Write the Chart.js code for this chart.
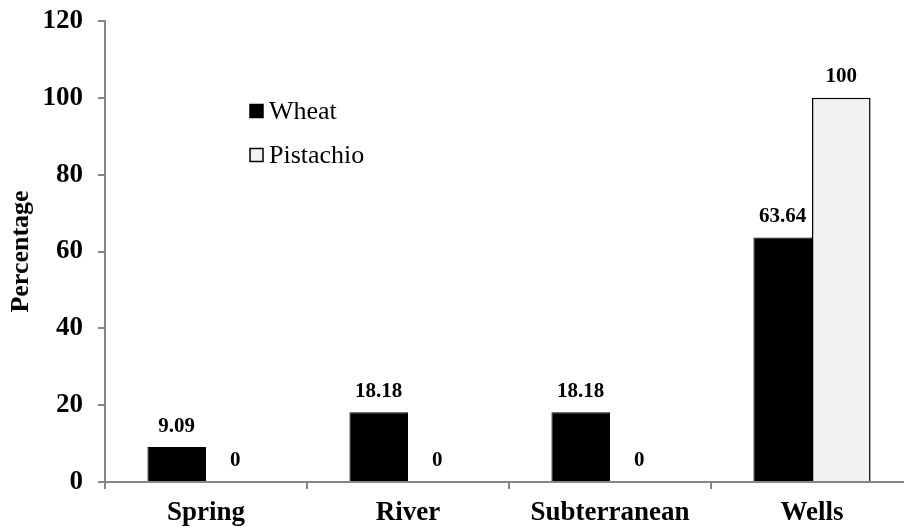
<!DOCTYPE html>
<html>
<head>
<meta charset="utf-8">
<script src="https://cdn.jsdelivr.net/npm/chart.js@4/dist/chart.umd.min.js"></script>
<style>
html,body{margin:0;padding:0;background:#fff;overflow:hidden;width:904px;height:529px;}
canvas{display:block;}
</style>
</head>
<body>
<canvas id="c" width="914" height="529"></canvas>
<script>
const categories = ["Spring", "River", "Subterranean", "Wells"];
const wheatValues = [9.09, 18.18, 18.18, 63.64];
const pistachioValues = [0, 0, 0, 100];
const seriesNames = ["Wheat", "Pistachio"];
const yTickValues = [0, 20, 40, 60, 80, 100, 120];

const FONT = "'Liberation Serif', serif";
const AXIS_COLOR = "#868686";

const valueLabels = {
  id: "valueLabels",
  afterDatasetsDraw(chart) {
    const ctx = chart.ctx;
    ctx.save();
    ctx.font = "bold 21px " + FONT;
    ctx.fillStyle = "#000";
    ctx.textAlign = "center";
    ctx.textBaseline = "middle";
    chart.data.datasets.forEach((ds, di) => {
      const meta = chart.getDatasetMeta(di);
      meta.data.forEach((bar, i) => {
        ctx.fillText(String(ds.data[i]), bar.x, bar.y - 21);
      });
    });
    ctx.restore();
  }
};

const innerLegend = {
  id: "innerLegend",
  afterDraw(chart) {
    const ctx = chart.ctx;
    ctx.save();
    ctx.font = "26px " + FONT;
    ctx.textBaseline = "middle";
    ctx.textAlign = "left";
    const x0 = 250, y0 = 111, gap = 44, box = 13;
    chart.data.datasets.forEach((ds, i) => {
      const y = y0 + i * gap;
      ctx.fillStyle = ds.backgroundColor;
      ctx.fillRect(x0, y - box / 2, box, box);
      ctx.lineWidth = 1.5;
      ctx.strokeStyle = "#000";
      ctx.strokeRect(x0, y - box / 2, box, box);
      ctx.fillStyle = "#000";
      ctx.fillText(ds.label, x0 + 19, y + 1);
    });
    ctx.restore();
  }
};

new Chart(document.getElementById("c"), {
  type: "bar",
  data: {
    labels: categories,
    datasets: [
      { label: seriesNames[0], data: wheatValues, backgroundColor: "#000000", borderColor: "#000000", borderWidth: 1 },
      { label: seriesNames[1], data: pistachioValues, backgroundColor: "#f2f2f2", borderColor: "#000000", borderWidth: 1.5 }
    ]
  },
  options: {
    responsive: false,
    animation: false,
    layout: { autoPadding: false, padding: { top: 21, right: 1, left: 0, bottom: 0 } },
    datasets: { bar: { categoryPercentage: 0.58, barPercentage: 1.0 } },
    plugins: { legend: { display: false }, tooltip: { enabled: false } },
    scales: {
      x: {
        afterFit: s => { s.height = 47; s.paddingLeft = 0; s.paddingRight = 0; },
        grid: { display: true, drawOnChartArea: false, drawTicks: true, tickLength: 7, color: AXIS_COLOR, lineWidth: 2, offset: true },
        border: { display: true, color: AXIS_COLOR, width: 2 },
        ticks: { color: "#000", font: { family: FONT, size: 27, weight: "bold" }, padding: 8 }
      },
      y: {
        min: 0, max: 120,
        afterFit: s => { s.width = 105; s.paddingTop = 0; s.paddingBottom = 0; },
        afterBuildTicks: s => { s.ticks = yTickValues.map(v => ({ value: v })); },
        grid: { display: true, drawOnChartArea: false, drawTicks: true, tickLength: 7, color: AXIS_COLOR, lineWidth: 2 },
        border: { display: true, color: AXIS_COLOR, width: 2 },
        ticks: { color: "#000", font: { family: FONT, size: 27, weight: "bold" }, padding: 15 },
        title: { display: true, text: "Percentage", color: "#000", font: { family: FONT, size: 26, weight: "bold" }, padding: { top: 6, bottom: 0 } }
      }
    }
  },
  plugins: [valueLabels, innerLegend]
});
</script>
</body>
</html>
